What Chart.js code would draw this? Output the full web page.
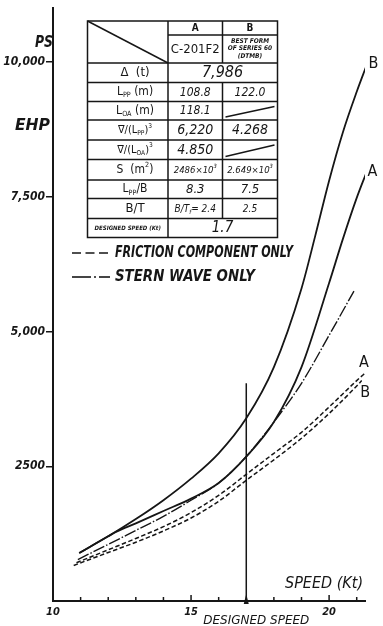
<!DOCTYPE html>
<html>
<head>
<meta charset="utf-8">
<script src="https://cdn.jsdelivr.net/npm/chart.js@4.4.1/dist/chart.umd.min.js"></script>
<style>
html,body{margin:0;padding:0;background:#fff;}
#wrap{width:383px;height:626px;position:relative;overflow:hidden;}
</style>
</head>
<body>
<div id="wrap"><canvas id="c" width="383" height="626"></canvas></div>
<script>
// ---------------- data ----------------
const speedB = [10.95, 12, 13, 14, 15, 16, 17, 18, 19, 19.5, 20, 20.5, 21, 21.35];
const ehpB   = [890, 1200, 1520, 1870, 2270, 2740, 3390, 4340, 5800, 6780, 7800, 8700, 9450, 9930];

const speedA = [10.95, 12, 12.3, 13, 14, 15, 16, 17, 18, 19, 20, 20.5, 21, 21.35];
const ehpA   = [890, 1200, 1285, 1440, 1670, 1900, 2190, 2680, 3320, 4340, 5900, 6720, 7480, 7950];

const speedStern = [10.9, 12, 13, 14, 15, 16, 17, 17.5, 18, 19, 20, 20.9];
const ehpStern   = [770, 1050, 1310, 1570, 1870, 2190, 2680, 2990, 3320, 4040, 4930, 5750];

const speedFrictionA = [10.85, 12, 13, 14, 15, 16, 17, 18, 19, 20, 21, 21.37];
const ehpFrictionA   = [710, 950, 1160, 1380, 1640, 1960, 2350, 2740, 3130, 3600, 4090, 4260];

const speedFrictionB = [10.75, 12, 13, 14, 15, 16, 17, 18, 19, 20, 21, 21.18];
const ehpFrictionB   = [660, 900, 1090, 1300, 1540, 1850, 2240, 2620, 3020, 3480, 3990, 4090];

const designedSpeed = 17;
const designedLineEhp = [0, 4040];

const xLabelValues = [10, 15, 20];
const xMinorTicks = [11, 12, 13, 14, 15, 16, 18, 19, 20, 21];
const yTickValues = [2500, 5000, 7500, 10000];
const yTickLabels = ['2500', '5,000', '7,500', '10,000'];

// particulars table (text)
const tableLabels = ['Δ  (t)', 'L_{PP} (m)', 'L_{OA} (m)', '∇/(L_{PP})^{3}', '∇/(L_{OA})^{3}', 'S  (m^{2})', 'L_{PP}/B', 'B/T', 'DESIGNED SPEED (Kt)'];
const tableColA   = ['7,986', '108.8', '118.1', '6,220', '4.850', '2486×10^{3}', '8.3', 'B/T_{f}= 2.4', '1.7'];
const tableColB   = ['', '122.0', '/', '4.268', '/', '2.649×10^{3}', '7.5', '2.5', ''];
const tableSpanRows = [0, 8];
const tableHeadA = ['A', 'C-201F2'];
const tableHeadB = ['B', 'BEST FORM', 'OF SERIES 60', '(DTMB)'];

const legendTexts = ['FRICTION COMPONENT ONLY', 'STERN WAVE ONLY'];

// ---------------- style ----------------
const INK = '#161616';
const FONT = '"Liberation Sans Narrow","DejaVu Sans Condensed","Arial Narrow",sans-serif';

const toPts = (xs, ys) => xs.map((x, i) => ({x: x, y: ys[i]}));

function fontStr(sz, o) {
  o = o || {};
  return (o.italic === false ? '' : 'italic ') + (o.bold ? 'bold ' : '') + sz + 'px ' + FONT;
}
function parseRich(str) {
  const out = [];
  const re = /([_^])\{([^}]*)\}/g;
  let last = 0, m;
  while ((m = re.exec(str)) !== null) {
    if (m.index > last) out.push({t: str.slice(last, m.index), k: 0});
    out.push({t: m[2], k: m[1] === '_' ? -1 : 1});
    last = re.lastIndex;
  }
  if (last < str.length) out.push({t: str.slice(last), k: 0});
  return out;
}
function drawRich(ctx, str, cx, cy, size, o) {
  o = o || {};
  const segs = parseRich(str);
  let w = 0;
  const parts = segs.map(s => {
    const sz = s.k ? size * 0.6 : size;
    ctx.font = fontStr(sz, o);
    const mw = ctx.measureText(s.t).width;
    w += mw;
    return {t: s.t, k: s.k, sz: sz, mw: mw};
  });
  let sc = 1;
  if (o.maxW && w > o.maxW) sc = o.maxW / w;
  ctx.save();
  ctx.translate(cx, cy);
  ctx.scale(sc, 1);
  ctx.textAlign = 'left';
  ctx.textBaseline = 'middle';
  let x = -w / 2;
  for (const p of parts) {
    ctx.font = fontStr(p.sz, o);
    const dy = p.k < 0 ? size * 0.3 : (p.k > 0 ? -size * 0.38 : 0);
    ctx.fillText(p.t, x, dy);
    x += p.mw;
  }
  ctx.restore();
}
function drawFit(ctx, text, x, yMid, width, size, o) {
  o = o || {};
  ctx.save();
  ctx.font = fontStr(size, o);
  const mw = ctx.measureText(text).width;
  ctx.translate(x, yMid);
  ctx.scale(width / mw, 1);
  ctx.textAlign = 'left';
  ctx.textBaseline = 'middle';
  ctx.fillText(text, 0, 0);
  ctx.restore();
}
function seg(ctx, x1, y1, x2, y2) {
  ctx.beginPath(); ctx.moveTo(x1, y1); ctx.lineTo(x2, y2); ctx.stroke();
}

const overlay = {
  id: 'overlay',
  afterDraw(chart) {
    const ctx = chart.ctx;
    const xs = chart.scales.x, ys = chart.scales.y;
    ctx.save();
    ctx.strokeStyle = INK;
    ctx.fillStyle = INK;
    ctx.lineCap = 'butt';

    // minor x ticks (pointing up, inside)
    ctx.lineWidth = 1.5;
    for (const v of xMinorTicks) {
      const px = xs.getPixelForValue(v);
      const len = (v % 5 === 0) ? 6 : 4;
      seg(ctx, px, ys.bottom, px, ys.bottom - len);
    }
    // designed-speed arrow
    const pd = xs.getPixelForValue(designedSpeed);
    ctx.beginPath();
    ctx.moveTo(pd - 2.5, ys.bottom + 3);
    ctx.lineTo(pd + 2.5, ys.bottom + 3);
    ctx.lineTo(pd, ys.bottom - 7);
    ctx.closePath();
    ctx.fill();

    // axis titles
    drawFit(ctx, 'PS', 35, 43, 18, 15, {bold: true});
    drawFit(ctx, 'EHP', 15, 126, 35, 15, {bold: true});
    drawFit(ctx, 'SPEED (Kt)', 285, 584, 78, 15, {});
    drawFit(ctx, 'DESIGNED SPEED', pd - 43, 621, 106, 13, {});

    // curve labels
    const lbl = (t, sx, sy, dx, dy) => drawRich(ctx, t, xs.getPixelForValue(sx) + dx, ys.getPixelForValue(sy) + dy, 16, {italic: false});
    lbl('B', speedB[speedB.length - 1], ehpB[ehpB.length - 1], 7, -2);
    lbl('A', speedA[speedA.length - 1], ehpA[ehpA.length - 1], 6, -1);
    lbl('A', speedFrictionA[speedFrictionA.length - 1], ehpFrictionA[ehpFrictionA.length - 1], -3, -9);
    lbl('B', speedFrictionB[speedFrictionB.length - 1], ehpFrictionB[ehpFrictionB.length - 1], 3.5, 12);

    // ---------- particulars table ----------
    const cx0 = 87.5, cx1 = 168, cx2 = 222.5, cx3 = 277.5;
    const rowY = [21, 35, 63, 82.5, 101.5, 120, 140, 159.5, 180, 198.5, 218.5, 237.5];
    ctx.lineWidth = 1.5;
    ctx.strokeRect(cx0, rowY[0], cx3 - cx0, rowY[rowY.length - 1] - rowY[0]);
    seg(ctx, cx1, rowY[0], cx1, rowY[rowY.length - 1]);
    seg(ctx, cx1, rowY[1], cx3, rowY[1]);
    for (let r = 2; r < rowY.length - 1; r++) seg(ctx, cx0, rowY[r], cx3, rowY[r]);
    seg(ctx, cx0, rowY[0], cx1, rowY[2]); // diagonal header cell
    for (let r = 0; r < 2; r++) seg(ctx, cx2, rowY[r], cx2, rowY[r + 1]);
    for (let i = 0; i < tableLabels.length; i++) {
      const y0 = rowY[i + 2], y1 = rowY[i + 3];
      if (tableSpanRows.indexOf(i) < 0) seg(ctx, cx2, y0, cx2, y1);
    }
    // header text
    drawRich(ctx, tableHeadA[0], (cx1 + cx2) / 2, 28, 10, {italic: false, bold: true});
    drawRich(ctx, tableHeadB[0], (cx2 + cx3) / 2, 28, 10, {italic: false, bold: true});
    drawRich(ctx, tableHeadA[1], (cx1 + cx2) / 2, 49.5, 13, {italic: false, maxW: 51});
    drawRich(ctx, tableHeadB[1], (cx2 + cx3) / 2, 41, 6.5, {bold: true, maxW: 50});
    drawRich(ctx, tableHeadB[2], (cx2 + cx3) / 2, 48.5, 6.5, {bold: true, maxW: 50});
    drawRich(ctx, tableHeadB[3], (cx2 + cx3) / 2, 56, 6.5, {bold: true, maxW: 40});
    // rows
    const labelSizes = [13, 12, 12, 11, 11, 12, 12, 13, 6];
    const valSizes   = [16, 12, 12, 14, 14, 9.5, 13, 10, 15];
    for (let i = 0; i < tableLabels.length; i++) {
      const yc = (rowY[i + 2] + rowY[i + 3]) / 2;
      drawRich(ctx, tableLabels[i], i === 8 ? (cx0 + cx1) / 2 : 135, yc, labelSizes[i], {bold: i === 8, maxW: 76, italic: i === 8});
      if (tableSpanRows.indexOf(i) >= 0) {
        drawRich(ctx, tableColA[i], cx2, yc + 0.5, valSizes[i], {maxW: 100});
        continue;
      }
      drawRich(ctx, tableColA[i], (cx1 + cx2) / 2, yc + 0.5, valSizes[i], {maxW: 50});
      if (tableColB[i] === '/') {
        ctx.lineWidth = 1.4;
        seg(ctx, cx2 + 3, rowY[i + 3] - 3, cx3 - 3, rowY[i + 2] + 5);
        ctx.lineWidth = 1.5;
      } else {
        drawRich(ctx, tableColB[i], (cx2 + cx3) / 2, yc + 0.5, valSizes[i], {maxW: 51});
      }
    }

    // ---------- legend ----------
    ctx.lineWidth = 1.6;
    ctx.setLineDash([9, 4.5]);
    seg(ctx, 72, 253, 108, 253);
    ctx.setLineDash([]);
    drawFit(ctx, legendTexts[0], 115, 253, 178, 15, {bold: true});
    seg(ctx, 72, 277, 91, 277);
    seg(ctx, 94, 277, 96, 277);
    seg(ctx, 99, 277, 110, 277);
    drawFit(ctx, legendTexts[1], 115, 277, 140, 15, {bold: true});

    ctx.restore();
  }
};

const common = {borderColor: INK, pointRadius: 0, fill: false, cubicInterpolationMode: 'monotone'};

new Chart(document.getElementById('c'), {
  type: 'line',
  data: {
    datasets: [
      Object.assign({label: 'B', data: toPts(speedB, ehpB), borderWidth: 1.8}, common),
      Object.assign({label: 'A', data: toPts(speedA, ehpA), borderWidth: 1.8}, common),
      Object.assign({label: 'Stern wave only', data: toPts(speedStern, ehpStern), borderWidth: 1.4, borderDash: [12, 2, 1.5, 2]}, common),
      Object.assign({label: 'Friction component only A', data: toPts(speedFrictionA, ehpFrictionA), borderWidth: 1.5, borderDash: [4.5, 2.5]}, common),
      Object.assign({label: 'Friction component only B', data: toPts(speedFrictionB, ehpFrictionB), borderWidth: 1.5, borderDash: [4.5, 2.5]}, common),
      Object.assign({label: 'Designed speed', data: designedLineEhp.map(v => ({x: designedSpeed, y: v})), borderWidth: 1.5}, common)
    ]
  },
  options: {
    responsive: false,
    animation: false,
    devicePixelRatio: 1,
    layout: {padding: {top: 8, right: 18, left: 0, bottom: 0}},
    plugins: {legend: {display: false}, tooltip: {enabled: false}},
    scales: {
      x: {
        type: 'linear', min: 10, max: 21.3,
        afterBuildTicks: s => { s.ticks = xLabelValues.map(v => ({value: v})); },
        afterFit: s => { s.height = 25; },
        grid: {display: false, drawTicks: false},
        border: {display: true, color: INK, width: 2},
        ticks: {autoSkip: false, maxRotation: 0, padding: 5, color: INK,
          font: {family: FONT, style: 'italic', weight: 'bold', size: 11},
          callback: v => String(v)}
      },
      y: {
        type: 'linear', min: 0, max: 11000,
        afterBuildTicks: s => { s.ticks = yTickValues.map(v => ({value: v})); },
        afterFit: s => { s.width = 53; },
        grid: {display: true, drawOnChartArea: false, drawTicks: true, tickLength: 7, color: INK, lineWidth: 1.5},
        border: {display: true, color: INK, width: 2},
        ticks: {padding: 1, color: INK,
          font: {family: FONT, style: 'italic', weight: 'bold', size: 12},
          callback: (v, i) => yTickLabels[i]}
      }
    }
  },
  plugins: [overlay]
});
</script>
</body>
</html>
